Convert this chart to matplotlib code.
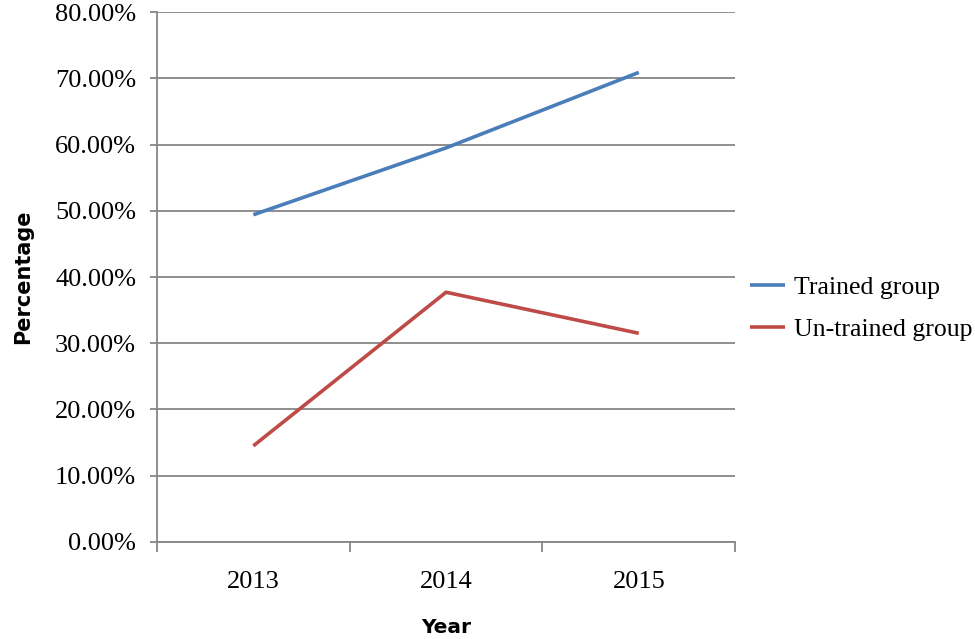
import matplotlib
matplotlib.use('Agg')
import matplotlib.pyplot as plt
import numpy as np

years = ['2013', '2014', '2015']
trained = [49.4, 59.5, 70.9]
untrained = [14.5, 37.7, 31.5]
y_ticks = [0, 10, 20, 30, 40, 50, 60, 70, 80]

grid_col = '#868686'

fig = plt.figure(figsize=(9.75, 6.39), dpi=100)
ax = fig.add_axes([0.161, 0.152, 0.593, 0.829])

x = np.arange(len(years))
ax.plot(x, trained, color='#4a7ebb', linewidth=2.6, label='Trained group', solid_capstyle='butt')
ax.plot(x, untrained, color='#be4b48', linewidth=2.6, label='Un-trained group', solid_capstyle='butt')

ax.set_xlim(-0.5, len(years) - 0.5)
ax.set_ylim(0, 80)
ax.set_yticks(y_ticks)
ax.set_yticklabels(['%.2f%%' % v for v in y_ticks], fontfamily='Liberation Serif', fontsize=19)
ax.set_xticks(x)
ax.set_xticklabels(years, fontfamily='Liberation Serif', fontsize=19)
ax.set_xticks(np.arange(len(years) + 1) - 0.5, minor=True)

ax.yaxis.grid(True, color=grid_col, linewidth=1.3)
ax.set_axisbelow(True)
for s in ['top', 'right']:
    ax.spines[s].set_visible(False)
for s in ['left', 'bottom']:
    ax.spines[s].set_color(grid_col)
    ax.spines[s].set_linewidth(1.3)

ax.tick_params(axis='y', length=5, width=1.3, color=grid_col, pad=10)
ax.tick_params(axis='x', which='major', length=0, pad=21)
ax.tick_params(axis='x', which='minor', length=7, width=1.3, color=grid_col)

ax.set_xlabel('Year', fontfamily='DejaVu Sans', fontweight='bold', fontsize=14.5, labelpad=18)
ax.set_ylabel('Percentage', fontfamily='DejaVu Sans', fontweight='bold', fontsize=15, labelpad=16)

ax.legend(loc='center left', bbox_to_anchor=(0.995, 0.44), frameon=False,
          prop={'family': 'Liberation Serif', 'size': 18.5}, handlelength=1.35,
          handletextpad=0.35, labelspacing=0.75, borderaxespad=0.3)

fig.savefig('out.png', dpi=100)
